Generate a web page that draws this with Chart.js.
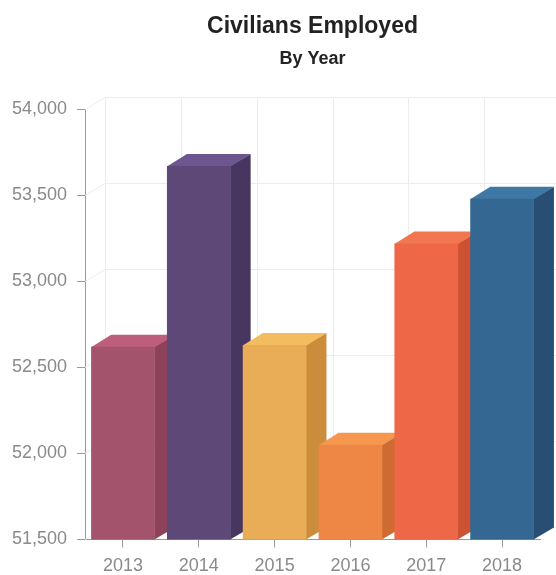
<!DOCTYPE html>
<html>
<head>
<meta charset="utf-8">
<title>Civilians Employed</title>
<script src="https://cdn.jsdelivr.net/npm/chart.js@4.4.1/dist/chart.umd.min.js"></script>
<style>
  html, body { margin: 0; padding: 0; background: #fff; }
  #box { width: 556px; height: 575px; }
</style>
</head>
<body>
<div id="box"><canvas id="civ_chart"></canvas></div>
<script>
// data
var years = ['2013', '2014', '2015', '2016', '2017', '2018'];
var employed = [52620, 53670, 52630, 52050, 53220, 53480];
var y_min = 51500;
var y_max = 54000;
var y_step = 500;

// face colours for the 3d look
var front_colors = ['#a3546c', '#5e4878', '#e9ad57', '#ee8746', '#ee6847', '#346791'];
var side_colors  = ['#8c4259', '#473760', '#cb8d3b', '#cd6b32', '#cc5233', '#284f73'];
var top_colors   = ['#bd5f7c', '#6c5690', '#f3bd5f', '#f5974f', '#f2764f', '#3f77a5'];

// draws the back wall grid plus side and top faces, fronts are the normal bars
var bars3d = {
	id: 'bars3d',
	beforeDatasetsDraw: function(chart, args, opts)
	{
		var ctx = chart.ctx;
		var a = chart.chartArea;
		var xs = chart.scales.x;
		var ys = chart.scales.y;
		var dx = opts.dx, dy = opts.dy;

		ctx.save();
		ctx.strokeStyle = opts.gridColor;
		ctx.lineWidth = 1;
		ctx.beginPath();
		ys.ticks.forEach(function(t, i)
		{
			var py = Math.round(ys.getPixelForTick(i)) + 0.5;
			ctx.moveTo(a.left, py);
			ctx.lineTo(a.left + dx, py - dy);
			ctx.lineTo(a.right + dx, py - dy);
		});
		for (var i = 0; i <= years.length; i++)
		{
			var px = Math.round(xs.getPixelForValue(i - 0.5)) + 0.5;
			ctx.moveTo(px + dx, a.top - dy);
			ctx.lineTo(px + dx, a.bottom - dy);
		}
		ctx.stroke();

		var meta = chart.getDatasetMeta(0);
		meta.data.forEach(function(bar, i)
		{
			var l = bar.x - bar.width / 2, r = bar.x + bar.width / 2;
			var t = bar.y, b = a.bottom;
			ctx.fillStyle = side_colors[i];
			ctx.beginPath();
			ctx.moveTo(r - 0.5, t);
			ctx.lineTo(r + dx, t - dy);
			ctx.lineTo(r + dx, b - dy);
			ctx.lineTo(r - 0.5, b);
			ctx.closePath();
			ctx.fill();
			ctx.fillStyle = top_colors[i];
			ctx.beginPath();
			ctx.moveTo(l, t + 0.5);
			ctx.lineTo(l + dx, t - dy);
			ctx.lineTo(r + dx, t - dy);
			ctx.lineTo(r, t + 0.5);
			ctx.closePath();
			ctx.fill();
		});
		ctx.restore();
	}
};

Chart.defaults.font.family = "'Liberation Sans', Arial, sans-serif";

var ctx = document.getElementById('civ_chart').getContext('2d');
var civ_chart = new Chart(ctx, {
	type: 'bar',
	data: {
		labels: years,
		datasets: [{
			data: employed,
			backgroundColor: front_colors,
			borderWidth: 0,
			categoryPercentage: 0.84,
			barPercentage: 1.0
		}]
	},
	plugins: [bars3d],
	options: {
		responsive: true,
		maintainAspectRatio: false,
		animation: false,
		layout: { padding: { left: 2, right: 16, top: 0, bottom: -10 } },
		plugins: {
			legend: { display: false },
			tooltip: { enabled: false },
			title: {
				display: true,
				text: 'Civilians Employed',
				color: '#222',
				fullSize: false,
				font: { size: 23, weight: 'bold' },
				padding: { top: 13, bottom: 2 }
			},
			subtitle: {
				display: true,
				text: 'By Year',
				color: '#222',
				fullSize: false,
				font: { size: 18, weight: 'bold' },
				padding: { top: 6, bottom: 39 }
			},
			bars3d: { dx: 20, dy: 12, gridColor: '#ececec' }
		},
		scales: {
			x: {
				grid: { display: true, offset: false, drawOnChartArea: false, tickLength: 8, color: '#999' },
				border: { display: true, color: '#999' },
				ticks: { color: '#8a8a8a', padding: 8, font: { size: 18 } }
			},
			y: {
				min: y_min,
				max: y_max,
				grid: { drawOnChartArea: false, tickLength: 8, color: '#999' },
				border: { display: true, color: '#999' },
				ticks: { stepSize: y_step, color: '#8a8a8a', padding: 10, font: { size: 18 } }
			}
		}
	}
});
</script>
</body>
</html>
